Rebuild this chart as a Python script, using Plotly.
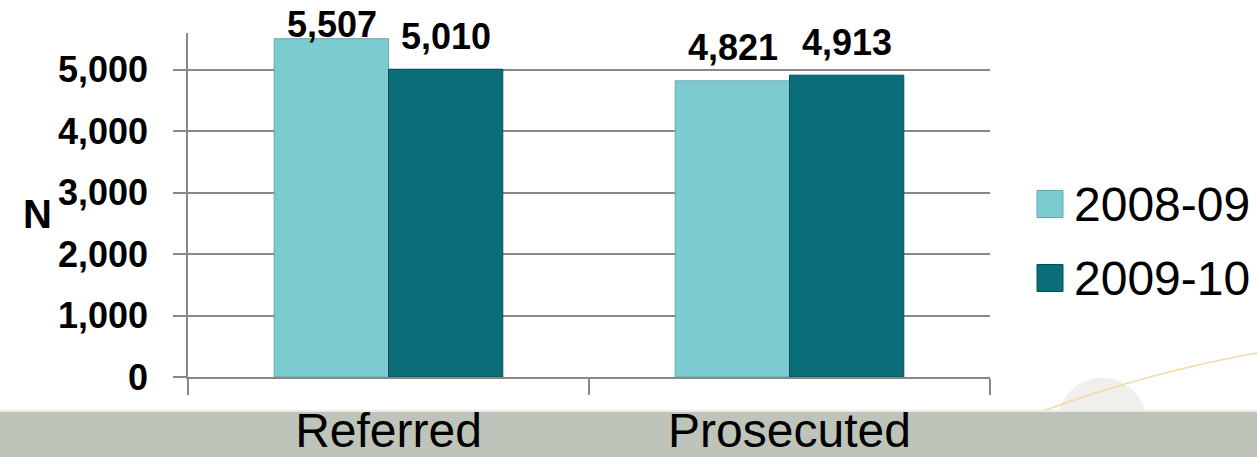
import plotly.graph_objects as go

categories = ["Referred", "Prosecuted"]
series_names = ["2008-09", "2009-10"]
values_2008_09 = [5507, 4821]
values_2009_10 = [5010, 4913]
y_tick_vals = [0, 1000, 2000, 3000, 4000, 5000]
y_tick_text = ["0", "1,000", "2,000", "3,000", "4,000", "5,000"]

colors = ["#7CCBD1", "#0A6E79"]
line_colors = ["#5FA9AF", "#064E57"]
FONT = "Arial, Liberation Sans, sans-serif"

Y_MAX = 5600
PLOT_H = 344  # px height of plot area
units_per_px = Y_MAX / PLOT_H

fig = go.Figure()
all_series = [values_2008_09, values_2009_10]
for name, vals, c, lc in zip(series_names, all_series, colors, line_colors):
    fig.add_trace(go.Bar(
        x=categories, y=vals, name=name,
        marker=dict(color=c, line=dict(color=lc, width=1)),
        showlegend=False, cliponaxis=False,
    ))

annotations = []
# value labels above bars (kept inside the chart area like the original)
for si, vals in enumerate(all_series):
    xshift = -57 if si == 0 else 57
    for cat, v in zip(categories, vals):
        yshift = min(33, (Y_MAX - v) / units_per_px + 8)
        annotations.append(dict(x=cat, y=v, xref="x", yref="y", xshift=xshift, yshift=yshift,
                                text=f"{v:,}", showarrow=False, yanchor="middle",
                                font=dict(family=FONT, size=36, color="black", weight="bold")))

fig.update_layout(
    width=1257, height=457,
    margin=dict(l=188, r=267, t=33, b=80),
    paper_bgcolor="white", plot_bgcolor="white",
    barmode="group", bargap=0.43, bargroupgap=0,
    font=dict(family=FONT, color="black"),
    xaxis=dict(
        type="category", range=[-0.5, 1.5], automargin=False,
        showline=True, linecolor="#888888", linewidth=1.5,
        ticks="outside", tickson="boundaries", ticklen=16, tickcolor="#888888", tickwidth=1.5,
        tickfont=dict(family=FONT, size=48, color="black"),
        ticklabelstandoff=11, showgrid=False,
    ),
    yaxis=dict(
        range=[0, Y_MAX], tickvals=y_tick_vals, ticktext=y_tick_text, automargin=False,
        showline=True, linecolor="#888888", linewidth=1.5,
        ticks="outside", ticklen=13, tickcolor="#888888", tickwidth=1.5,
        showgrid=True, gridcolor="#888888", gridwidth=1.5, zeroline=False,
        tickfont=dict(family=FONT, size=36, color="black", weight="bold"),
        ticklabelstandoff=18,
    ),
)

shapes = []
# decorative circle and curve (background ornament)
shapes.append(dict(type="circle", xref="paper", yref="paper",
                   x0=(1057 - 188) / 802, x1=(1147 - 188) / 802,
                   y0=(377 - 468) / 344, y1=(377 - 378) / 344,
                   fillcolor="#EFEFED", line=dict(width=0), layer="below"))
shapes.append(dict(type="path", xref="paper", yref="paper",
                   path=f"M {(1043-188)/802},{(377-411)/344} Q {(1150-188)/802},{(377-372)/344} {(1257-188)/802},{(377-353)/344}",
                   line=dict(color="#F3D9A0", width=1.5), layer="below"))
# grey band at the bottom
shapes.append(dict(type="rect", xref="paper", yref="paper",
                   x0=-188 / 802, x1=(1257 - 188) / 802,
                   y0=(377 - 458) / 344, y1=(377 - 412) / 344,
                   fillcolor="#BEC4BA", line=dict(width=0), layer="below"))
shapes.append(dict(type="line", xref="paper", yref="paper",
                   x0=-188 / 802, x1=(1257 - 188) / 802,
                   y0=(377 - 411) / 344, y1=(377 - 411) / 344,
                   line=dict(color="#E4E7E2", width=1.5), layer="below"))
# legend
legend_y = [(377 - 204) / 344, (377 - 278) / 344]
for name, c, lc, ly in zip(series_names, colors, line_colors, legend_y):
    shapes.append(dict(type="rect", xref="paper", yref="paper",
                       x0=(1037 - 188) / 802, x1=(1063 - 188) / 802,
                       y0=ly - 13.5 / 344, y1=ly + 13.5 / 344,
                       fillcolor=c, line=dict(color=lc, width=1)))
    annotations.append(dict(xref="paper", yref="paper", x=(1072 - 188) / 802, y=ly,
                            xanchor="left", yanchor="middle", text=name, showarrow=False,
                            font=dict(family=FONT, size=48, color="black")))
annotations.append(dict(xref="paper", yref="paper", x=(37 - 188) / 802, y=(377 - 214) / 344,
                        xanchor="center", yanchor="middle", text="N", showarrow=False,
                        font=dict(family=FONT, size=40, color="black", weight="bold")))

fig.update_layout(shapes=shapes, annotations=annotations)
fig.write_html("out.html", config={"displayModeBar": False},
               post_script="document.body.style.margin='0px';")
